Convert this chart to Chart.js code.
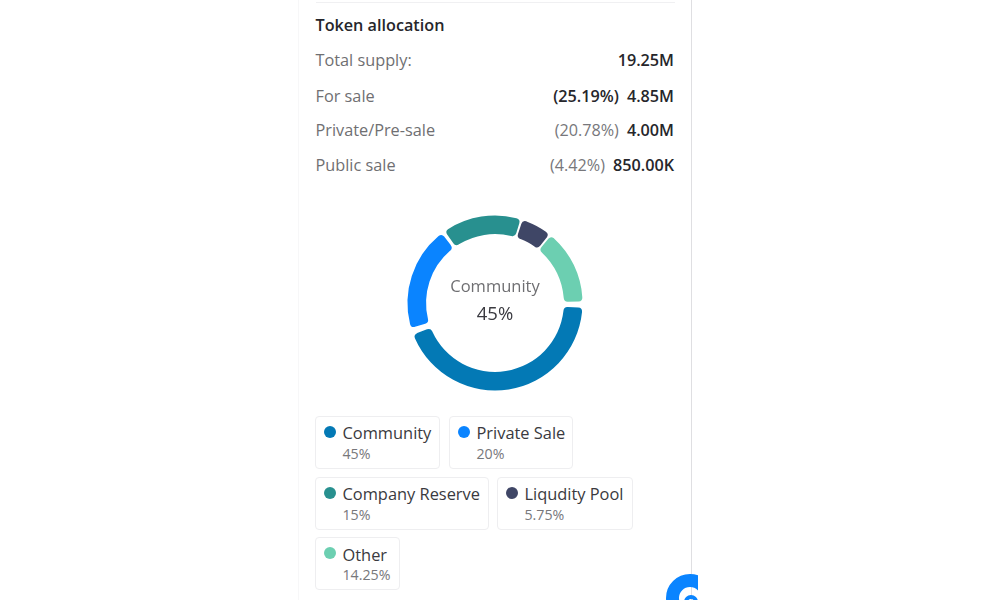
<!DOCTYPE html>
<html><head><meta charset="utf-8">
<script src="https://cdn.jsdelivr.net/npm/chart.js@4"></script>
<style>
html,body{margin:0;padding:0;background:#fff;width:1000px;height:600px;overflow:hidden;font-family:"Open Sans",sans-serif}
.a{position:absolute;white-space:nowrap;line-height:20px}
.lab{color:#6f6f72;font-size:16.3px;left:315.5px}
.r{right:326px;font-size:16.2px;font-weight:600;color:#26262b}
.g{color:#77777b;font-weight:400}
.box{position:absolute;border:1px solid #eeeef0;border-radius:4px;box-sizing:border-box;height:53px}
.dot{position:absolute;left:8px;top:9px;width:12px;height:12px;border-radius:50%}
.n{position:absolute;left:26.5px;top:5px;font-size:16.4px;line-height:22px;color:#3a3a40;white-space:nowrap}
.p{position:absolute;left:26.5px;top:28px;font-size:14.2px;line-height:18px;color:#77777b;white-space:nowrap}
</style></head><body>
<div style="position:absolute;left:298px;top:0;width:1px;height:600px;background:#f7f7f8"></div>
<div style="position:absolute;left:691px;top:0;width:1px;height:600px;background:#dfdfe2"></div>
<div style="position:absolute;left:316px;top:2px;width:359px;height:1px;background:#f0f0f2"></div>
<div class="a" style="left:315.5px;top:15px;font-size:16.2px;font-weight:600;color:#26262b">Token allocation</div>
<div id="rows"></div>
<div style="position:absolute;left:395px;top:203px;width:200px;height:200px"><canvas id="c" width="200" height="200"></canvas></div>
<div class="a" style="left:395px;width:200px;text-align:center;top:276px;font-size:16.5px;color:#6f6f72">Community</div>
<div class="a" style="left:395px;width:200px;text-align:center;top:303px;font-size:18.5px;color:#3a3a40">45%</div>
<div id="legend"></div>
<div style="position:absolute;left:666px;top:574px;width:32px;height:26px;overflow:hidden">
<div style="position:absolute;left:0;top:0;width:48px;height:48px;border-radius:50%;border:13px solid #0a84ff;box-sizing:border-box"></div>
<div style="position:absolute;left:18px;top:21px;width:14px;height:14px;border-radius:50%;border:4px solid #0a84ff;box-sizing:border-box"></div>
</div>
<script>
const categories=["Community","Private Sale","Company Reserve","Liqudity Pool","Other"];
const values=[45,20,15,5.75,14.25];
const valueLabels=["45%","20%","15%","5.75%","14.25%"];
const colors=["#0379b5","#0a84ff","#28908f","#3f4666","#6ccfb1"];
const rowLabels=["Total supply:","For sale","Private/Pre-sale","Public sale"];
const rowPercents=["","(25.19%)","(20.78%)","(4.42%)"];
const rowAmounts=["19.25M","4.85M","4.00M","850.00K"];
const rowTops=[50,86,120,155];
const boxes=[[315,416,125],[449,416,124],[315,477,174],[497,477,136],[315,537,85]];
let h="";
rowLabels.forEach((l,i)=>{
 const pc=rowPercents[i]?`<span class="${i==1?'':'g'}" style="margin-right:8px">${rowPercents[i]}</span>`:"";
 h+=`<div class="a lab" style="top:${rowTops[i]}px">${l}</div><div class="a r" style="top:${rowTops[i]}px">${pc}${rowAmounts[i]}</div>`;
});
document.getElementById("rows").innerHTML=h;
let g="";
categories.forEach((c,i)=>{
 const b=boxes[i];
 const nameTop=i==4?"top:6px":"";
 g+=`<div class="box" style="left:${b[0]}px;top:${b[1]}px;width:${b[2]}px"><div class="dot" style="background:${colors[i]}"></div><div class="n" style="${nameTop}">${c}</div><div class="p">${valueLabels[i]}</div></div>`;
});
document.getElementById("legend").innerHTML=g;
new Chart(document.getElementById("c"),{type:"doughnut",
 data:{labels:categories,datasets:[{data:values,backgroundColor:colors,borderWidth:0,borderRadius:4,spacing:6}]},
 options:{responsive:false,animation:false,rotation:90,radius:84.5,cutout:"78%",layout:{padding:0},
  plugins:{legend:{display:false},tooltip:{enabled:false}}}});
</script></body></html>
